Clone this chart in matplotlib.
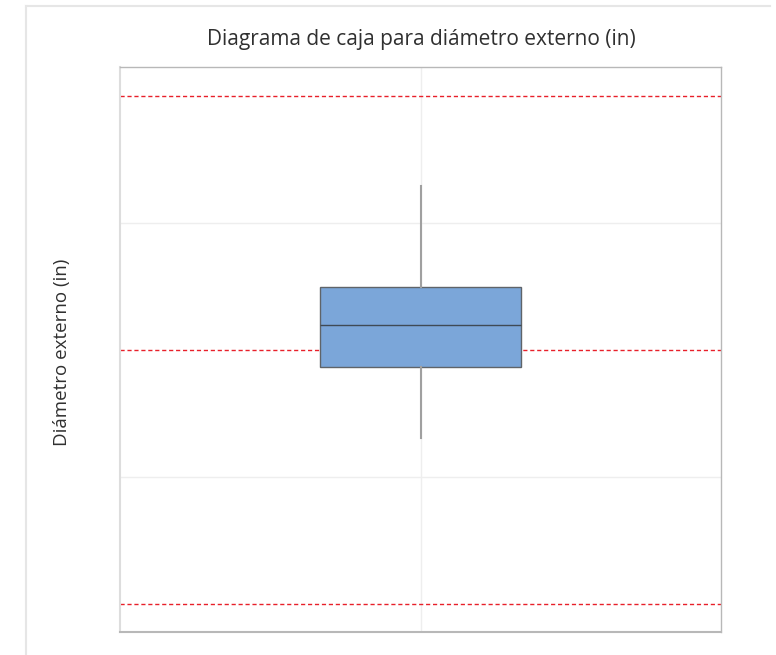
import matplotlib.pyplot as plt
from matplotlib.lines import Line2D

plt.rcParams['font.family'] = ['Open Sans', 'DejaVu Sans']

# diámetro externo (in): resumen de cinco números
whisker_low = 0.99827
q1 = 0.99967
median = 1.00049
q3 = 1.00124
whisker_high = 1.00323

# límites de especificación y objetivo
lsl = 0.995
target = 1.000
usl = 1.005

grid_ticks = [0.9975, 1.0025]

stats = [{
    "whislo": whisker_low,
    "q1": q1,
    "med": median,
    "q3": q3,
    "whishi": whisker_high,
    "fliers": [],
}]

fig = plt.figure(figsize=(7.76, 6.55), dpi=100)
ax = fig.add_axes([120 / 776, 23 / 655, 601 / 776, 565 / 655])

ax.bxp(stats, positions=[1], widths=0.333, showcaps=False, patch_artist=True,
       boxprops=dict(facecolor="#7ba6d9", edgecolor="#5f6469", linewidth=1.0),
       medianprops=dict(color="#3f4a55", linewidth=1.0),
       whiskerprops=dict(color="#a0a0a0", linewidth=1.5),
       zorder=3)

for y in [lsl, target, usl]:
    ax.axhline(y, color="#e8202a", linestyle=(0, (3, 2)), linewidth=1.0, zorder=2)

ax.set_xlim(0.5, 1.5)
ax.set_ylim(0.99445, 1.00557)
ax.set_yticks(grid_ticks)
ax.set_xticks([1])
ax.grid(True, color="#eeeeee", linewidth=1.0, zorder=0)
ax.set_axisbelow(True)
ax.tick_params(length=0, labelleft=False, labelbottom=False)

for side in ["top", "right"]:
    ax.spines[side].set_color("#b8b8b8")
    ax.spines[side].set_linewidth(1.0)
ax.spines["left"].set_color("#dddddd")
ax.spines["left"].set_linewidth(1.5)
ax.spines["bottom"].set_color("#b8b8b8")
ax.spines["bottom"].set_linewidth(1.5)

fig.text(421 / 776, 1 - 40 / 655, "Diagrama de caja para diámetro externo (in)",
         ha="center", va="center", fontsize=15, color="#303030")
fig.text(62 / 776, 1 - 352 / 655, "Diámetro externo (in)", rotation=90,
         ha="center", va="center", fontsize=13.5, color="#303030")

# marco gris claro del panel
fig.add_artist(Line2D([26 / 776, 770 / 776], [1 - 6 / 655, 1 - 6 / 655],
                      color="#e6e6e6", linewidth=1.5))
fig.add_artist(Line2D([26 / 776, 26 / 776], [0, 1 - 6 / 655],
                      color="#e6e6e6", linewidth=1.5))

fig.savefig("out.png", dpi=100)
